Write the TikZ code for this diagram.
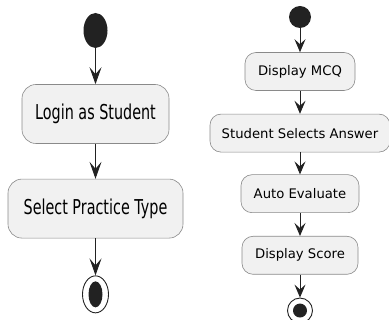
\documentclass[tikz,border=0pt]{standalone}
\usepackage{fontspec}
\setmainfont{DejaVu Sans}
\newfontfamily\tallfont[FakeStretch=0.7]{DejaVu Sans}
\usetikzlibrary{positioning,arrows.meta,shapes.geometric}
\definecolor{boxfill}{HTML}{F1F1F1}
\definecolor{boxline}{HTML}{8A8A8A}
\definecolor{ink}{HTML}{222222}

\begin{document}
\begin{tikzpicture}[
        x=1pt, y=1pt,
        action/.style={draw=boxline, fill=boxfill, line width=0.6pt, rounded corners=11pt,
          minimum height=38pt, inner sep=0pt, font=\fontsize{13.2}{16}\selectfont},
        bigaction/.style={action, rounded corners=14pt, minimum height=59pt,
          font=\tallfont\fontsize{20.5}{24}\selectfont},
        start/.style={circle, fill=ink, minimum size=22pt, inner sep=0pt},
        bigstart/.style={ellipse, fill=ink, minimum width=24pt, minimum height=35pt, inner sep=0pt},
        stop/.style={circle, draw=ink, line width=0.9pt, minimum size=25pt, inner sep=0pt,
          path picture={\fill[ink] (path picture bounding box.center) circle (7pt);}},
        bigstop/.style={ellipse, draw=ink, line width=0.9pt, minimum width=26pt, minimum height=37pt,
          inner sep=0pt, path picture={\fill[ink] (path picture bounding box.center) ellipse (7pt and 13pt);}},
        arr/.style={-{Stealth[length=13pt,width=11pt,inset=5pt]}, draw=ink, line width=0.9pt},
        bigarr/.style={-{Stealth[length=17pt,width=12pt,inset=7pt]}, draw=ink, line width=0.9pt}
    ]
      \useasboundingbox (0,0) rectangle (389,-320);

      % login flow
      \node[bigstart] (s1) at (95.5,-30.5) {};
      \node[bigaction, minimum width=147pt, below=36pt of s1] (login) {Login as Student};
      \node[bigaction, minimum width=175pt, below=35pt of login] (type) {Select Practice Type};
      \node[bigstop, below=37pt of type] (e1) {};

      \draw[bigarr] (s1) -- (login);
      \draw[bigarr] (login) -- (type);
      \draw[bigarr] (type) -- (e1);

      % practice flow
      \node[start] (s2) at (300,-17) {};
      \node[action, minimum width=110pt, below=24pt of s2] (mcq) {Display MCQ};
      \node[action, minimum width=180pt, below=23pt of mcq] (answer) {Student Selects Answer};
      \node[action, minimum width=118pt, below=22pt of answer] (eval) {Auto Evaluate};
      \node[action, minimum width=116pt, below=23pt of eval] (score) {Display Score};
      \node[stop, below=23pt of score] (e2) {};

      \draw[arr] (s2) -- (mcq);
      \draw[arr] (mcq) -- (answer);
      \draw[arr] (answer) -- (eval);
      \draw[arr] (eval) -- (score);
      \draw[arr] (score) -- (e2);
    \end{tikzpicture}
\end{document}
